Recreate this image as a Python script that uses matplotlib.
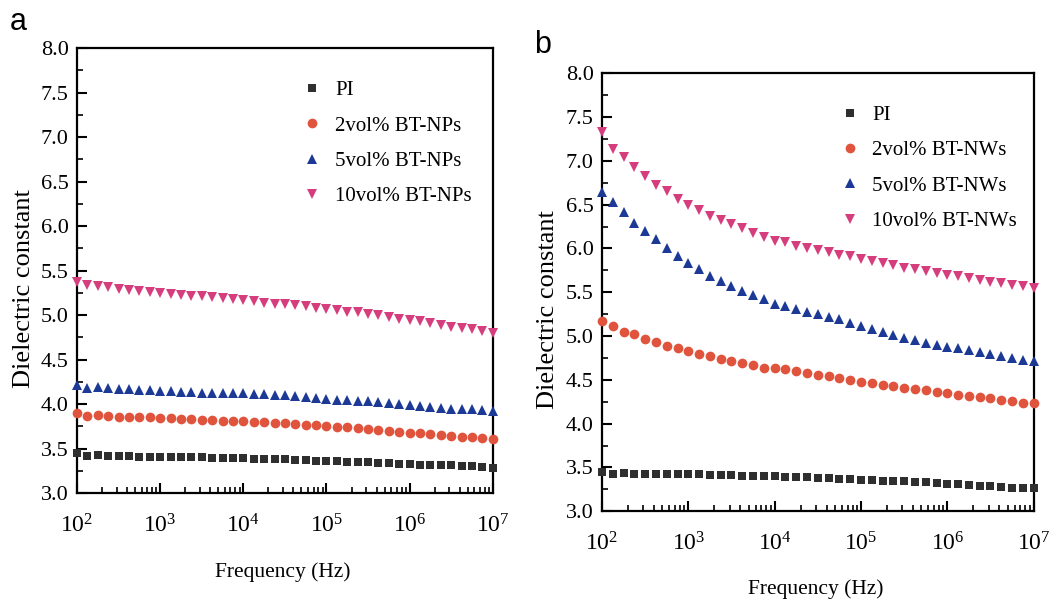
import matplotlib
matplotlib.use("Agg")
import matplotlib.pyplot as plt
from matplotlib.ticker import LogLocator, LogFormatterMathtext, MultipleLocator, NullFormatter

plt.rcParams['font.family'] = ['Liberation Serif', 'DejaVu Serif']
plt.rcParams['mathtext.fontset'] = 'custom'
plt.rcParams['mathtext.rm'] = 'Liberation Serif'
plt.rcParams['mathtext.it'] = 'Liberation Serif:italic'

# Frequencies (Hz), 8 points per decade from 1e2 to 1e7
freq = [100, 133, 178, 237, 316, 422, 562, 750,
        1000, 1334, 1778, 2371, 3162, 4217, 5623, 7499,
        10000, 13335, 17783, 23714, 31623, 42170, 56234, 74989,
        100000, 133352, 177828, 237137, 316228, 421697, 562341, 749894,
        1000000, 1333521, 1778279, 2371374, 3162278, 4216965, 5623413, 7498942,
        10000000]

# Panel a: BT nanoparticles
a_labels = ['PI', '2vol% BT-NPs', '5vol% BT-NPs', '10vol% BT-NPs']
a_pi = [3.45, 3.42, 3.43, 3.42, 3.42, 3.42, 3.41, 3.41, 3.41, 3.40, 3.40, 3.40, 3.40, 3.39,
        3.39, 3.39, 3.39, 3.38, 3.38, 3.38, 3.38, 3.37, 3.37, 3.36, 3.36, 3.36, 3.35, 3.35,
        3.35, 3.34, 3.34, 3.33, 3.33, 3.32, 3.32, 3.31, 3.31, 3.30, 3.30, 3.29, 3.28]
a_2 = [3.90, 3.87, 3.88, 3.87, 3.86, 3.86, 3.85, 3.85, 3.84, 3.84, 3.83, 3.83, 3.82, 3.82,
       3.81, 3.81, 3.81, 3.80, 3.80, 3.79, 3.79, 3.78, 3.77, 3.76, 3.75, 3.74, 3.74, 3.73,
       3.72, 3.71, 3.70, 3.69, 3.68, 3.67, 3.66, 3.65, 3.64, 3.63, 3.63, 3.62, 3.61]
a_5 = [4.21, 4.18, 4.19, 4.18, 4.17, 4.17, 4.16, 4.16, 4.15, 4.15, 4.14, 4.14, 4.13, 4.13,
       4.12, 4.12, 4.12, 4.11, 4.11, 4.10, 4.10, 4.09, 4.08, 4.07, 4.06, 4.05, 4.05, 4.04,
       4.03, 4.02, 4.01, 4.00, 3.99, 3.98, 3.97, 3.96, 3.95, 3.94, 3.94, 3.93, 3.92]
a_10 = [5.37, 5.34, 5.33, 5.31, 5.29, 5.28, 5.27, 5.26, 5.25, 5.24, 5.23, 5.22, 5.21, 5.20,
        5.19, 5.18, 5.17, 5.16, 5.14, 5.13, 5.12, 5.11, 5.10, 5.08, 5.07, 5.06, 5.04, 5.03,
        5.01, 5.00, 4.98, 4.96, 4.95, 4.93, 4.91, 4.89, 4.87, 4.85, 4.84, 4.82, 4.80]

# Panel b: BT nanowires
b_labels = ['PI', '2vol% BT-NWs', '5vol% BT-NWs', '10vol% BT-NWs']
b_pi = [3.45, 3.43, 3.44, 3.43, 3.43, 3.43, 3.42, 3.42, 3.42, 3.42, 3.41, 3.41, 3.41, 3.40,
        3.40, 3.40, 3.40, 3.39, 3.39, 3.39, 3.38, 3.38, 3.37, 3.37, 3.36, 3.36, 3.35, 3.35,
        3.34, 3.33, 3.33, 3.32, 3.31, 3.31, 3.30, 3.29, 3.29, 3.28, 3.27, 3.27, 3.26]
b_2 = [5.17, 5.12, 5.05, 5.02, 4.97, 4.93, 4.89, 4.86, 4.83, 4.80, 4.77, 4.74, 4.71, 4.69,
       4.67, 4.64, 4.63, 4.62, 4.60, 4.58, 4.56, 4.54, 4.52, 4.50, 4.48, 4.46, 4.44, 4.43,
       4.41, 4.40, 4.38, 4.36, 4.35, 4.33, 4.31, 4.30, 4.29, 4.27, 4.26, 4.24, 4.23]
b_5 = [6.64, 6.53, 6.41, 6.29, 6.20, 6.11, 6.00, 5.91, 5.83, 5.76, 5.69, 5.63, 5.57, 5.51,
       5.47, 5.42, 5.37, 5.34, 5.31, 5.27, 5.25, 5.22, 5.19, 5.15, 5.11, 5.08, 5.05, 5.01,
       4.98, 4.95, 4.92, 4.90, 4.88, 4.86, 4.84, 4.82, 4.80, 4.77, 4.75, 4.73, 4.71]
b_10 = [7.33, 7.14, 7.04, 6.93, 6.83, 6.72, 6.65, 6.56, 6.49, 6.44, 6.37, 6.33, 6.28, 6.23,
        6.18, 6.13, 6.09, 6.07, 6.03, 6.00, 5.98, 5.96, 5.93, 5.91, 5.88, 5.86, 5.83, 5.81,
        5.78, 5.76, 5.74, 5.72, 5.70, 5.68, 5.66, 5.64, 5.62, 5.60, 5.58, 5.57, 5.55]

colors = ['#2f2f2f', '#e0533c', '#1c3a95', '#d63d7d']
markers = ['s', 'o', '^', 'v']
msizes = [6, 7, 7.5, 7.5]

fig = plt.figure(figsize=(10.58, 6.05), dpi=100)
ax_a = fig.add_axes([0.0728, 0.185, 0.393, 0.7355])
ax_b = fig.add_axes([0.569, 0.155, 0.408, 0.724])


def style(ax, series, labels, leg_anchor):
    for y, lab, c, m, s in zip(series, labels, colors, markers, msizes):
        ax.plot(freq, y, linestyle='none', marker=m, color=c, markersize=s,
                markeredgewidth=0, label=lab, clip_on=False, zorder=3)
    ax.set_xscale('log')
    ax.set_xlim(100, 1e7)
    ax.set_ylim(3.0, 8.0)
    ax.yaxis.set_major_locator(MultipleLocator(0.5))
    ax.yaxis.set_minor_locator(MultipleLocator(0.25))
    ax.yaxis.set_major_formatter(plt.FormatStrFormatter('%.1f'))
    ax.xaxis.set_major_locator(LogLocator(base=10, numticks=10))
    ax.xaxis.set_minor_locator(LogLocator(base=10, subs=range(2, 10), numticks=100))
    ax.xaxis.set_minor_formatter(NullFormatter())
    ax.xaxis.set_major_formatter(LogFormatterMathtext())
    ax.tick_params(axis='both', which='major', direction='in', length=7, width=1.5,
                   labelsize=16, top=False, right=False)
    ax.tick_params(axis='both', which='minor', direction='in', length=4, width=1.2,
                   top=False, right=False)
    ax.tick_params(axis='x', which='major', pad=15, labelsize=17)
    ax.tick_params(axis='y', which='major', pad=6)
    for sp in ax.spines.values():
        sp.set_linewidth(1.6)
    ax.set_xlabel('Frequency (Hz)', fontsize=15.5)
    ax.set_ylabel('Dielectric constant', fontsize=19)
    ax.legend(loc='upper left', bbox_to_anchor=leg_anchor, frameon=False, fontsize=15,
              handletextpad=0.6, labelspacing=0.75, handlelength=1.0, borderaxespad=0,
              markerscale=1.0)


style(ax_a, [a_pi, a_2, a_5, a_10], a_labels, (0.52, 0.945))
style(ax_b, [b_pi, b_2, b_5, b_10], b_labels, (0.53, 0.945))

ax_a.yaxis.set_label_coords(-0.10, 0.46)
ax_b.yaxis.set_label_coords(-0.10, 0.46)
ax_a.xaxis.set_label_coords(0.495, -0.155)
ax_b.xaxis.set_label_coords(0.495, -0.155)

fig.text(18 / 1058, 1 - 22 / 605, 'a', fontsize=22, family='Liberation Sans', va='center', ha='center')
fig.text(543 / 1058, 1 - 45 / 605, 'b', fontsize=22, family='Liberation Sans', va='center', ha='center')

fig.savefig('out.png', dpi=100)
